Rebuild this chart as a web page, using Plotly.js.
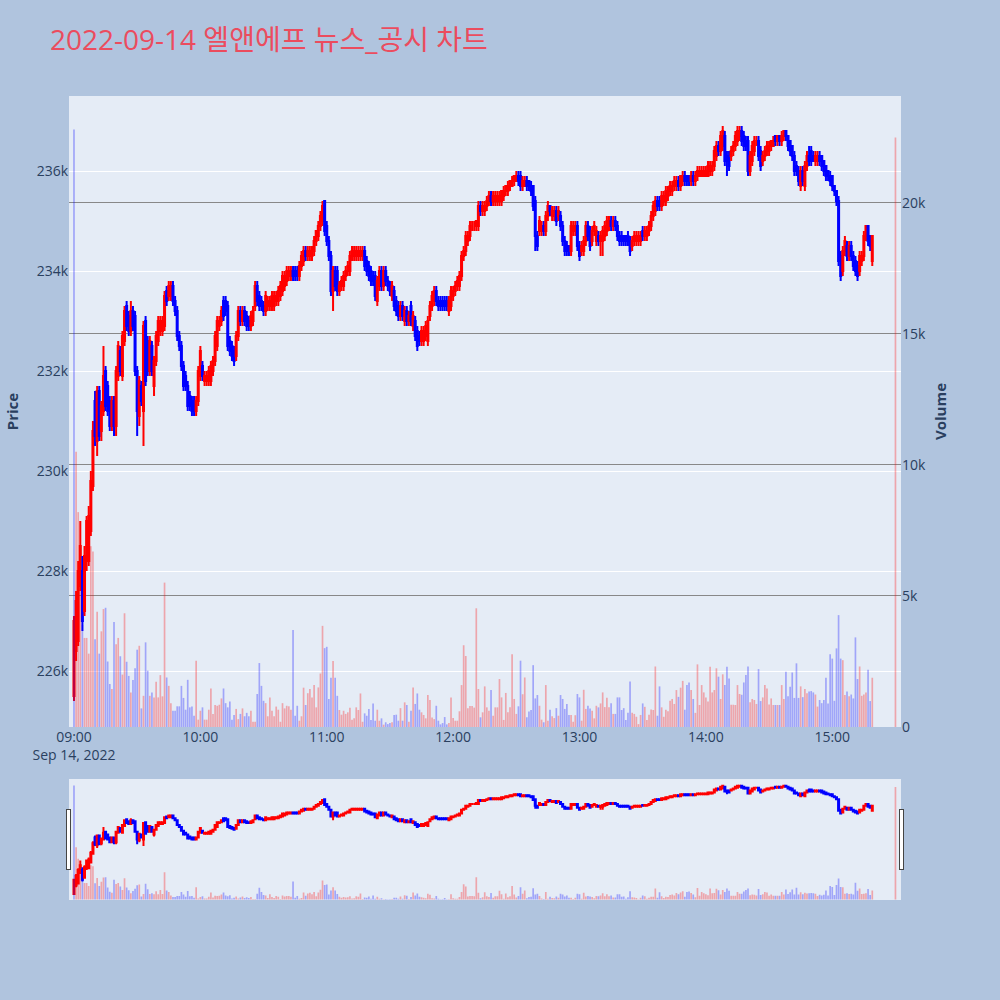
<!DOCTYPE html>
<html>
<head>
<meta charset="utf-8">
<script src="https://cdn.plot.ly/plotly-3.0.1.min.js"></script>
<style>html,body{margin:0;padding:0;background:#B0C4DE;}</style>
</head>
<body>
<div id="chart" style="width:1000px;height:1000px;"></div>
<script>
// 1-minute bars from 09:00, prices in units of 100 KRW
const openP = [
2255,2264,2266,2277,2280,2272,2282,2282,2288,2297,
2314,2306,2316,2308,2312,2320,2317,2314,2309,2314,
2309,2319,2324,2319,2326,2333,2331,2328,2332,2331,
2320,2311,2317,2312,2330,2326,2320,2325,2317,2322,
2326,2328,2328,2329,2336,2335,2335,2337,2334,2332,
2327,2325,2321,2319,2317,2315,2314,2314,2312,2314,
2319,2321,2318,2318,2318,2318,2320,2322,2325,2329,
2330,2334,2334,2333,2326,2325,2324,2323,2327,2332,
2330,2332,2331,2330,2329,2330,2333,2337,2335,2334,
2333,2332,2333,2333,2333,2333,2334,2334,2335,2336,
2337,2338,2339,2339,2340,2340,2340,2339,2341,2342,
2344,2343,2343,2343,2344,2346,2347,2349,2350,2354,
2349,2346,2343,2336,2340,2340,2336,2337,2337,2339,
2340,2340,2343,2343,2343,2343,2343,2343,2344,2342,
2341,2340,2339,2339,2334,2337,2340,2337,2340,2338,
2337,2335,2336,2334,2333,2331,2333,2330,2332,2330,
2333,2329,2330,2328,2327,2326,2326,2327,2326,2331,
2333,2334,2336,2334,2334,2334,2334,2334,2332,2333,
2335,2336,2337,2337,2339,2343,2344,2346,2347,2349,
2349,2349,2349,2353,2352,2352,2353,2354,2355,2354,
2354,2354,2354,2354,2355,2356,2356,2357,2357,2358,
2358,2359,2359,2357,2357,2358,2358,2357,2357,2354,
2347,2348,2348,2349,2348,2351,2353,2351,2351,2352,
2351,2351,2349,2346,2345,2345,2344,2348,2348,2349,
2345,2344,2344,2346,2349,2348,2346,2348,2346,2347,
2346,2346,2347,2348,2349,2350,2349,2350,2349,2347,
2347,2347,2347,2347,2346,2345,2346,2346,2346,2346,
2348,2347,2347,2348,2349,2351,2352,2354,2354,2353,
2354,2354,2355,2356,2356,2357,2357,2358,2357,2358,
2359,2359,2359,2358,2359,2358,2359,2359,2359,2359,
2359,2359,2360,2360,2361,2363,2365,2364,2365,2367,
2363,2363,2363,2364,2365,2366,2367,2368,2367,2366,
2366,2360,2362,2364,2366,2366,2364,2362,2363,2364,
2364,2365,2365,2367,2366,2367,2366,2367,2368,2367,
2366,2365,2363,2361,2360,2357,2360,2357,2361,2363,
2364,2363,2362,2362,2363,2363,2362,2361,2360,2359,
2359,2357,2356,2354,2343,2340,2344,2345,2343,2345,
2343,2342,2341,2340,2342,2343,2347,2349,2347,2342
];
const highP = [
2271,2276,2282,2290,2283,2285,2291,2293,2300,2310,
2316,2317,2317,2314,2325,2321,2318,2315,2315,2315,
2321,2326,2325,2328,2333,2334,2332,2334,2333,2332,
2321,2319,2318,2330,2331,2327,2327,2326,2323,2328,
2331,2331,2331,2336,2337,2338,2338,2338,2335,2333,
2328,2326,2322,2320,2318,2316,2315,2315,2315,2321,
2325,2322,2320,2320,2321,2322,2323,2328,2331,2331,
2333,2335,2335,2334,2327,2326,2325,2328,2333,2333,
2333,2333,2332,2331,2332,2333,2338,2338,2336,2335,
2334,2336,2335,2335,2336,2336,2336,2337,2338,2340,
2340,2341,2341,2341,2341,2341,2341,2342,2344,2345,
2345,2345,2345,2345,2347,2348,2350,2352,2354,2354,
2350,2347,2344,2341,2341,2341,2338,2339,2340,2341,
2342,2344,2345,2345,2345,2345,2345,2345,2345,2343,
2342,2341,2340,2340,2339,2341,2341,2341,2341,2339,
2338,2338,2337,2335,2334,2334,2334,2333,2333,2332,
2334,2332,2331,2329,2328,2329,2329,2330,2331,2334,
2336,2337,2337,2335,2335,2335,2335,2335,2335,2337,
2337,2338,2339,2340,2344,2345,2348,2348,2350,2350,
2350,2350,2354,2354,2354,2354,2355,2356,2356,2356,
2356,2356,2356,2356,2357,2357,2358,2358,2359,2359,
2360,2360,2360,2359,2359,2359,2358,2358,2357,2355,
2348,2351,2350,2350,2352,2354,2353,2353,2353,2353,
2353,2352,2350,2347,2346,2345,2350,2350,2350,2350,
2346,2346,2347,2350,2350,2349,2349,2350,2349,2348,
2348,2349,2350,2351,2351,2351,2351,2351,2350,2348,
2348,2347,2347,2348,2347,2347,2348,2348,2348,2348,
2349,2349,2349,2350,2352,2354,2355,2355,2355,2356,
2356,2357,2357,2358,2358,2359,2359,2359,2359,2360,
2360,2359,2359,2360,2360,2360,2361,2361,2361,2361,
2361,2362,2362,2362,2365,2366,2366,2368,2369,2368,
2364,2364,2365,2366,2368,2369,2369,2369,2368,2367,
2367,2364,2366,2367,2367,2367,2365,2364,2365,2366,
2366,2366,2367,2367,2367,2367,2368,2368,2368,2367,
2366,2365,2364,2362,2361,2361,2361,2362,2364,2365,
2365,2364,2364,2364,2364,2363,2362,2361,2360,2360,
2359,2357,2356,2355,2344,2345,2347,2346,2346,2346,
2344,2343,2342,2344,2344,2348,2349,2349,2347,2347
];
const lowP = [
2254,2262,2265,2276,2268,2271,2280,2281,2287,2296,
2305,2303,2306,2306,2311,2312,2311,2308,2308,2307,
2307,2318,2319,2318,2325,2328,2327,2327,2328,2319,
2307,2309,2313,2305,2317,2319,2319,2319,2315,2321,
2325,2327,2327,2328,2333,2334,2334,2333,2331,2326,
2324,2320,2316,2316,2312,2312,2311,2311,2311,2313,
2318,2318,2317,2317,2317,2317,2319,2321,2324,2328,
2329,2330,2331,2324,2323,2322,2321,2322,2326,2329,
2329,2329,2328,2328,2328,2329,2332,2333,2332,2332,
2331,2331,2332,2332,2332,2332,2333,2333,2334,2335,
2336,2337,2338,2338,2338,2338,2338,2338,2340,2341,
2342,2342,2342,2342,2343,2345,2346,2348,2349,2347,
2345,2342,2335,2332,2336,2335,2335,2336,2336,2338,
2339,2339,2342,2342,2342,2342,2342,2342,2340,2339,
2338,2337,2337,2334,2333,2336,2336,2336,2337,2336,
2335,2334,2332,2331,2330,2330,2330,2329,2329,2329,
2329,2328,2326,2324,2325,2325,2325,2326,2325,2330,
2332,2333,2333,2332,2332,2332,2332,2332,2331,2332,
2334,2335,2336,2336,2338,2342,2343,2345,2346,2348,
2348,2348,2348,2351,2351,2351,2352,2353,2353,2353,
2353,2353,2353,2353,2354,2355,2355,2356,2357,2357,
2358,2357,2356,2356,2357,2356,2356,2355,2352,2344,
2344,2347,2347,2347,2347,2350,2351,2350,2350,2349,
2350,2348,2345,2343,2343,2343,2343,2347,2347,2344,
2342,2343,2343,2345,2346,2344,2345,2347,2345,2345,
2343,2343,2346,2347,2348,2348,2348,2348,2346,2345,
2345,2345,2345,2345,2343,2344,2345,2345,2345,2345,
2346,2346,2346,2347,2348,2350,2351,2352,2352,2352,
2353,2353,2354,2355,2355,2356,2356,2356,2356,2357,
2357,2357,2357,2357,2357,2357,2358,2359,2359,2359,
2359,2359,2359,2359,2360,2362,2363,2363,2364,2361,
2359,2360,2362,2363,2364,2365,2366,2365,2364,2364,
2359,2359,2361,2363,2365,2362,2360,2361,2362,2363,
2363,2364,2365,2365,2365,2365,2365,2366,2366,2364,
2363,2362,2359,2359,2357,2356,2357,2356,2360,2361,
2361,2362,2361,2361,2361,2360,2359,2358,2358,2357,
2356,2355,2353,2341,2338,2339,2343,2342,2342,2342,
2340,2339,2338,2339,2341,2342,2346,2345,2344,2341
];
const closeP = [
2270,2274,2280,2285,2270,2283,2290,2291,2298,2308,
2307,2316,2307,2313,2319,2313,2312,2309,2314,2309,
2320,2325,2320,2327,2332,2329,2328,2332,2329,2320,
2312,2318,2314,2329,2318,2320,2326,2320,2322,2327,
2330,2330,2330,2335,2334,2337,2337,2334,2332,2327,
2325,2321,2317,2317,2313,2313,2312,2312,2314,2320,
2324,2319,2319,2319,2320,2321,2322,2327,2330,2330,
2332,2331,2332,2325,2324,2323,2322,2327,2332,2330,
2332,2330,2329,2329,2331,2332,2337,2334,2333,2333,
2332,2335,2334,2334,2335,2335,2335,2336,2337,2339,
2339,2340,2340,2340,2339,2339,2339,2341,2343,2344,
2343,2344,2344,2344,2346,2348,2349,2351,2353,2348,
2346,2343,2336,2340,2337,2336,2337,2338,2339,2340,
2341,2343,2344,2344,2344,2344,2344,2344,2341,2340,
2339,2338,2338,2335,2338,2340,2337,2340,2338,2337,
2336,2337,2333,2332,2331,2333,2331,2332,2330,2331,
2330,2331,2327,2325,2326,2328,2328,2329,2330,2333,
2335,2336,2334,2333,2333,2333,2333,2333,2334,2336,
2336,2337,2338,2339,2343,2344,2347,2347,2349,2349,
2349,2350,2353,2352,2353,2353,2354,2355,2354,2355,
2355,2355,2355,2356,2356,2357,2357,2358,2358,2359,
2359,2358,2357,2358,2358,2357,2357,2356,2353,2347,
2345,2350,2349,2348,2351,2353,2352,2352,2352,2350,
2352,2349,2346,2344,2344,2344,2349,2349,2349,2345,
2343,2345,2346,2349,2347,2345,2348,2349,2348,2346,
2347,2348,2349,2350,2350,2349,2350,2349,2347,2346,
2346,2346,2346,2346,2344,2346,2347,2347,2347,2347,
2347,2348,2348,2349,2351,2353,2354,2353,2353,2355,
2355,2356,2356,2357,2357,2358,2358,2357,2359,2359,
2358,2358,2358,2359,2358,2359,2360,2360,2360,2360,
2360,2361,2361,2361,2364,2365,2364,2367,2368,2362,
2362,2361,2364,2365,2367,2368,2368,2366,2365,2365,
2360,2363,2365,2366,2366,2363,2361,2363,2364,2365,
2365,2366,2366,2366,2367,2366,2367,2368,2367,2365,
2364,2363,2360,2360,2358,2360,2358,2361,2363,2362,
2362,2362,2363,2363,2362,2361,2360,2359,2359,2358,
2357,2356,2354,2342,2339,2344,2346,2343,2345,2343,
2341,2340,2339,2343,2343,2347,2349,2346,2345,2347
];
// traded shares per minute
const volume = [
22800,10500,8200,6000,3900,3400,3400,2800,6900,6700,
3350,4400,2800,3650,4500,4550,2500,1640,1450,4010,
3160,3400,2700,2000,4340,2490,1950,1320,1790,2240,
2950,3100,710,1190,3230,2150,1190,1320,1130,1730,
1130,1980,1170,5510,1890,1570,910,620,620,790,
790,1570,1110,660,1800,750,780,430,2530,280,
620,750,280,280,660,1470,500,840,810,850,
1090,1470,910,750,970,280,460,690,300,500,
710,410,540,410,620,200,200,1260,2440,1570,
1000,910,410,1130,620,410,780,660,200,910,
710,810,790,660,3700,430,810,240,410,1500,
840,1290,1450,1130,1600,750,1510,2040,3860,3010,
3060,1070,1880,2520,1880,1190,650,470,620,500,
560,730,280,330,750,650,1280,200,520,430,
690,270,900,240,660,240,330,90,180,110,
150,180,460,470,240,720,240,940,840,200,
620,1510,880,1280,660,560,460,330,1220,1030,
360,300,810,240,100,150,380,100,150,1130,
340,240,240,600,1600,3120,2710,720,800,800,
740,4530,1450,370,560,1550,750,620,1410,430,
750,750,1830,1130,270,1300,560,750,2780,1070,
500,790,2530,1250,1890,370,590,650,2360,1090,
1220,810,280,180,1600,240,660,410,340,720,
430,1220,1070,690,880,460,460,200,450,1260,
1130,240,1420,690,810,710,620,330,810,750,
900,1320,760,1120,750,910,500,500,1130,1130,
650,720,270,540,1740,540,500,390,110,460,
900,770,270,470,670,650,2310,430,1550,750,
390,660,600,1000,1070,880,1410,1150,1500,1760,
660,1600,1700,1410,1070,540,2390,840,1600,1320,
1130,970,2300,1320,1410,2240,1920,1070,2010,1600,
2300,1850,850,850,840,1600,1260,1230,1700,1980,
2310,940,1070,1030,880,2210,990,1130,1600,1470,
860,1090,840,840,840,840,1600,1070,2110,1170,
1540,2080,1110,2430,1110,1550,1140,1450,1290,1350,
1370,1320,1240,780,1030,910,1030,1880,900,2780,
2610,1000,3000,4270,2610,2550,1220,1350,1170,1240,
1090,3420,1830,2310,1190,1240,1320,2180,990,1880
];
const closingAuctionTime = '2022-09-14 15:30';
const closingAuctionVolume = 22500;

const UP = 'red', DOWN = 'blue';

function minuteStamp(i) {
    const m = 9 * 60 + i;
    const hh = String(Math.floor(m / 60)).padStart(2, '0');
    const mm = String(m % 60).padStart(2, '0');
    return '2022-09-14 ' + hh + ':' + mm;
}

const times = closeP.map((_, i) => minuteStamp(i));
const toWon = arr => arr.map(v => v * 100);

// volume colour follows the candle; the 09:00 bar is blue in the source
const volColors = closeP.map((c, i) => (c >= openP[i] ? 'rgba(255,0,0,0.3)' : 'rgba(0,0,255,0.3)'));
volColors[0] = 'rgba(0,0,255,0.3)';
volColors.push('rgba(255,0,0,0.3)');

const candles = {
    type: 'candlestick',
    x: times,
    open: toWon(openP), high: toWon(highP), low: toWon(lowP), close: toWon(closeP),
    increasing: { line: { color: UP, width: 2 }, fillcolor: UP },
    decreasing: { line: { color: DOWN, width: 2 }, fillcolor: DOWN },
    xaxis: 'x', yaxis: 'y',
    hoverinfo: 'skip'
};

const bars = {
    type: 'bar',
    x: times.concat([closingAuctionTime]),
    y: volume.concat([closingAuctionVolume]),
    marker: { color: volColors, line: { width: 0 } },
    xaxis: 'x', yaxis: 'y2',
    hoverinfo: 'skip'
};

const layout = {
    width: 1000, height: 1000,
    paper_bgcolor: '#B0C4DE', plot_bgcolor: '#E5ECF6',
    font: { family: '"Open Sans", "Noto Sans CJK KR", sans-serif', color: '#2a3f5f', size: 14 },
    title: {
        text: '2022-09-14 엘앤에프 뉴스_공시 차트',
        font: { size: 28, color: '#EB4C5E' },
        x: 0.05, xanchor: 'left', y: 0.96, yanchor: 'middle'
    },
    margin: { l: 68, r: 99, t: 96, b: 100 },
    showlegend: false,
    xaxis: {
        type: 'date',
        range: ['2022-09-14 08:57:38', '2022-09-14 15:32:38'],
        showgrid: false,
        rangeslider: { visible: true, thickness: 0.15 }
    },
    yaxis: {
        title: { text: 'Price', font: { size: 15, weight: 'bold' }, standoff: 14 },
        automargin: true,
        range: [224880, 237500], dtick: 2000,
        gridcolor: 'white', zeroline: false
    },
    yaxis2: {
        title: { text: 'Volume', font: { size: 15, weight: 'bold' }, standoff: 10 },
        automargin: true,
        overlaying: 'y', side: 'right',
        range: [0, 24080], dtick: 5000,
        gridcolor: '#888', zeroline: false
    }
};

Plotly.newPlot('chart', [candles, bars], layout, { displayModeBar: false });
</script>
</body>
</html>
